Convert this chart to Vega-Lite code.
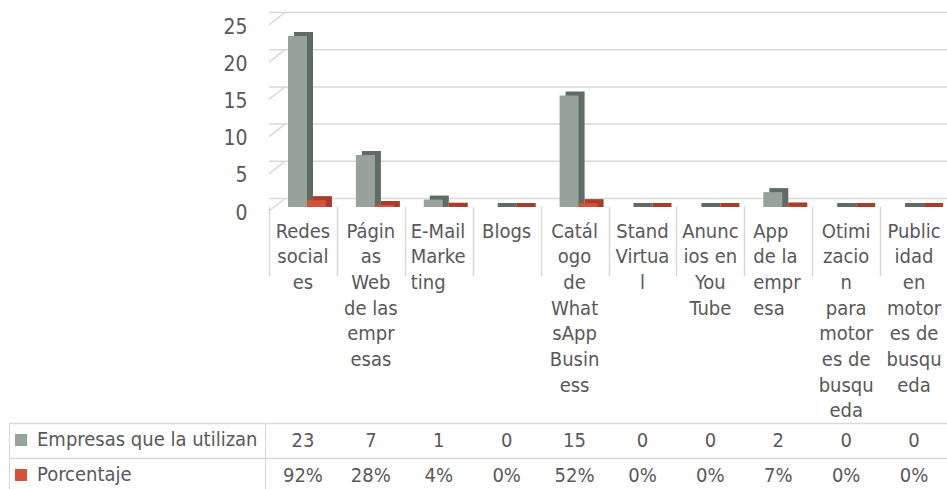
{
  "$schema": "https://vega.github.io/schema/vega-lite/v6.json",
  "autosize": {"type": "pad"},
  "padding": {"left": 8, "top": 11, "right": 0, "bottom": 0},
  "background": "#ffffff",
  "spacing": 3,
  "bounds": "flush",
  "config": {
    "view": {"stroke": null},
    "font": "DejaVu Sans Condensed",
    "axis": {"labelFont": "DejaVu Sans Condensed"},
    "axisY": {"labelOverlap": false},
    "legend": {"labelFont": "DejaVu Sans Condensed"}
  },
  "datasets": {
    "canales": [
      {"canal": "Redes\nsocial\nes", "serie": "Empresas que la utilizan", "valor": 23, "texto": "23"},
      {"canal": "Redes\nsocial\nes", "serie": "Porcentaje", "valor": 0.92, "texto": "92%"},
      {"canal": "Págin\nas\nWeb\nde las\nempr\nesas", "serie": "Empresas que la utilizan", "valor": 7, "texto": "7"},
      {"canal": "Págin\nas\nWeb\nde las\nempr\nesas", "serie": "Porcentaje", "valor": 0.28, "texto": "28%"},
      {"canal": "E-Mail\nMarke\nting", "serie": "Empresas que la utilizan", "valor": 1, "texto": "1"},
      {"canal": "E-Mail\nMarke\nting", "serie": "Porcentaje", "valor": 0.04, "texto": "4%"},
      {"canal": "Blogs", "serie": "Empresas que la utilizan", "valor": 0, "texto": "0"},
      {"canal": "Blogs", "serie": "Porcentaje", "valor": 0, "texto": "0%"},
      {"canal": "Catál\nogo\nde\nWhat\nsApp\nBusin\ness", "serie": "Empresas que la utilizan", "valor": 15, "texto": "15"},
      {"canal": "Catál\nogo\nde\nWhat\nsApp\nBusin\ness", "serie": "Porcentaje", "valor": 0.52, "texto": "52%"},
      {"canal": "Stand\nVirtua\nl", "serie": "Empresas que la utilizan", "valor": 0, "texto": "0"},
      {"canal": "Stand\nVirtua\nl", "serie": "Porcentaje", "valor": 0, "texto": "0%"},
      {"canal": "Anunc\nios en\nYou\nTube", "serie": "Empresas que la utilizan", "valor": 0, "texto": "0"},
      {"canal": "Anunc\nios en\nYou\nTube", "serie": "Porcentaje", "valor": 0, "texto": "0%"},
      {"canal": "App\nde  la\nempr\nesa", "serie": "Empresas que la utilizan", "valor": 2, "texto": "2"},
      {"canal": "App\nde  la\nempr\nesa", "serie": "Porcentaje", "valor": 0.07, "texto": "7%"},
      {"canal": "Otimi\nzacio\nn\npara\nmotor\nes de\nbusqu\neda", "serie": "Empresas que la utilizan", "valor": 0, "texto": "0"},
      {"canal": "Otimi\nzacio\nn\npara\nmotor\nes de\nbusqu\neda", "serie": "Porcentaje", "valor": 0, "texto": "0%"},
      {"canal": "Public\nidad\nen\nmotor\nes de\nbusqu\neda", "serie": "Empresas que la utilizan", "valor": 0, "texto": "0"},
      {"canal": "Public\nidad\nen\nmotor\nes de\nbusqu\neda", "serie": "Porcentaje", "valor": 0, "texto": "0%"}
    ],
    "lineas": [{"v": 0}, {"v": 5}, {"v": 10}, {"v": 15}, {"v": 20}, {"v": 25}]
  },
  "vconcat": [
    {
      "width": 679,
      "height": 186,
      "resolve": {"scale": {"xOffset": "independent"}},
      "layer": [
        {
          "data": {"name": "lineas"},
          "mark": {"type": "rule", "color": "#d9d9d9", "strokeWidth": 1.5, "xOffset": 16, "yOffset": -8.5},
          "encoding": {
            "y": {"field": "v", "type": "quantitative", "scale": {"domain": [0, 25], "nice": false, "zero": true},
              "axis": {"values": [0, 5, 10, 15, 20, 25], "tickCount": 6, "labelOverlap": false, "grid": false, "domain": false, "ticks": false, "labelFontSize": 21, "labelColor": "#595959", "labelPadding": 22, "labelOffset": 6, "title": null}}
          }
        },
        {
          "data": {"name": "lineas"},
          "mark": {"type": "rule", "color": "#d9d9d9", "strokeWidth": 1.5, "yOffset": 4, "y2Offset": -8.5},
          "encoding": {
            "x": {"value": 0},
            "x2": {"value": 16},
            "y": {"field": "v", "type": "quantitative",
              "axis": {"values": [0, 5, 10, 15, 20, 25], "tickCount": 6, "labelOverlap": false, "grid": false, "domain": false, "ticks": false, "labelFontSize": 21, "labelColor": "#595959", "labelPadding": 22, "labelOffset": 6, "title": null}},
            "y2": {"field": "v"}
          }
        },
        {
          "data": {"name": "canales"},
          "mark": {"type": "bar", "yOffset": -4, "y2Offset": 0},
          "encoding": {
            "x": {"field": "canal", "type": "nominal", "sort": null, "scale": {"paddingInner": 0, "paddingOuter": 0},
              "axis": {"labelExpr": "split(datum.label, '\\n')", "labelAngle": 0, "labelOverlap": false, "labelLineHeight": 25.7, "labelFontSize": 20, "labelColor": "#595959", "labelBaseline": "top", "labelPadding": 14, "ticks": false, "domain": false, "grid": false, "title": null, "labelLimit": 0,
                "labelAlign": {"condition": {"test": "indexof(datum.value, 'E-Mail') === 0 || indexof(datum.value, 'App') === 0", "value": "left"}, "value": "center"},
                "labelOffset": {"condition": [{"test": "indexof(datum.value, 'E-Mail') === 0", "value": -28}, {"test": "indexof(datum.value, 'App') === 0", "value": -25}], "value": 0}}},
            "xOffset": {"field": "serie", "sort": null, "scale": {"range": [25, 63], "paddingOuter": 0, "paddingInner": 0}},
            "y": {"field": "valor", "type": "quantitative",
              "axis": {"values": [0, 5, 10, 15, 20, 25], "tickCount": 6, "labelOverlap": false, "grid": false, "domain": false, "ticks": false, "labelFontSize": 21, "labelColor": "#595959", "labelPadding": 22, "labelOffset": 6, "title": null}},
            "y2": {"datum": 0},
            "color": {"condition": {"test": "datum.serie === 'Porcentaje'", "value": "#A83D2A"}, "value": "#5F6B64"}
          }
        },
        {
          "data": {"name": "canales"},
          "mark": {"type": "bar"},
          "encoding": {
            "x": {"field": "canal", "type": "nominal", "sort": null},
            "xOffset": {"field": "serie", "sort": null, "scale": {"range": [19, 57], "paddingOuter": 0, "paddingInner": 0}},
            "y": {"field": "valor", "type": "quantitative",
              "axis": {"values": [0, 5, 10, 15, 20, 25], "tickCount": 6, "labelOverlap": false, "grid": false, "domain": false, "ticks": false, "labelFontSize": 21, "labelColor": "#595959", "labelPadding": 22, "labelOffset": 6, "title": null}},
            "color": {"field": "serie", "type": "nominal", "sort": null,
              "scale": {"domain": ["Empresas que la utilizan", "Porcentaje"], "range": ["#97A39A", "#D4513A"]},
              "legend": {"orient": "none", "legendX": -260, "legendY": 402, "title": null, "symbolType": "square", "symbolSize": 144, "symbolStrokeWidth": 0, "symbolOffset": -5, "labelFontSize": 20, "labelColor": "#595959", "labelOffset": 6, "rowPadding": 15, "padding": 7, "strokeColor": "#d9d9d9", "labelLimit": 0}}
          }
        }
      ]
    },
    {
      "width": 679,
      "height": 279,
      "data": {"name": "canales"},
      "mark": {"type": "text", "fontSize": 20, "color": "#595959"},
      "encoding": {
        "x": {"field": "canal", "type": "nominal", "sort": null, "scale": {"paddingInner": 0, "paddingOuter": 0},
          "axis": {"labels": false, "ticks": false, "domain": false, "grid": true, "tickBand": "extent", "gridColor": "#d9d9d9", "gridWidth": 1.5, "title": null}},
        "y": {"field": "serie", "type": "nominal", "sort": null, "scale": {"domain": ["Empresas que la utilizan", "Porcentaje"], "range": [213, 283], "paddingInner": 0, "paddingOuter": 0},
          "axis": {"labels": false, "ticks": true, "tickSize": 260, "tickBand": "extent", "tickColor": "#d9d9d9", "tickWidth": 1.5, "grid": true, "gridColor": "#d9d9d9", "gridWidth": 1.5, "domain": false, "title": null}},
        "text": {"field": "texto"}
      }
    }
  ]
}
